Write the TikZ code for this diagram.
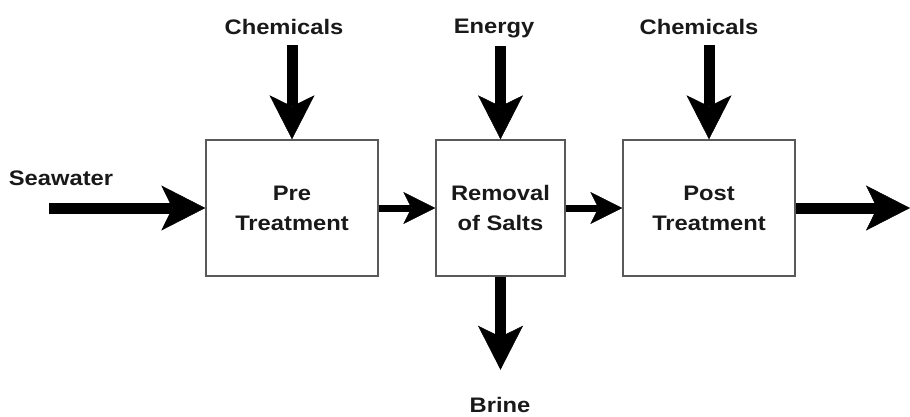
\documentclass[tikz,border=0pt]{standalone}
\usepackage{fontspec}
\setmainfont{Liberation Sans}[FakeStretch=1.13]
\usetikzlibrary{arrows.meta}

\begin{document}
\begin{tikzpicture}[x=1pt, y=-1pt, every node/.style={font=\bfseries\fontsize{21}{30}\selectfont, text=black!90}]
  \tikzset{stage/.style={draw=black!65, line width=1.4pt, minimum width=172pt, minimum height=136pt,
                         align=center, inner sep=0pt},
           feed/.style={line width=11pt, -{Stealth[length=44pt, width=45pt, inset=11pt, line width=0.5pt]}},
           link/.style={line width=7pt, -{Stealth[length=32pt, width=32pt, inset=8pt, line width=0.5pt]}}}
  \useasboundingbox (0,0) rectangle (910,416);
  \node[stage] (pre) at (292,208) {Pre\\Treatment};
  \node[stage, minimum width=129pt] (salt) at (500.5,208) {Removal\\of Salts};
  \node[stage] (post) at (709,208) {Post\\Treatment};
  \node (sea) at (61,178) {Seawater};
  \node (chemA) at (284,27) {Chemicals};
  \node (energy) at (494,28) {Energy};
  \node (chemB) at (699,27) {Chemicals};
  \node (brine) at (500,405) {Brine};
  \coordinate (in) at (49,208);
  \coordinate (out) at (910,208);
  \draw[feed] (in) -- (pre);
  \draw[link] (pre) -- (salt);
  \draw[link] (salt) -- (post);
  \draw[feed] (post) -- (out);
  \draw[feed, shorten <=7pt] (pre.north |- chemA.south) -- (pre.north);
  \draw[feed, shorten <=5pt] (salt.north |- energy.south) -- (salt.north);
  \draw[feed, shorten <=7pt] (post.north |- chemB.south) -- (post.north);
  \draw[feed, shorten >=24pt] (salt.south) -- (salt.south |- brine.north);
\end{tikzpicture}
\end{document}
